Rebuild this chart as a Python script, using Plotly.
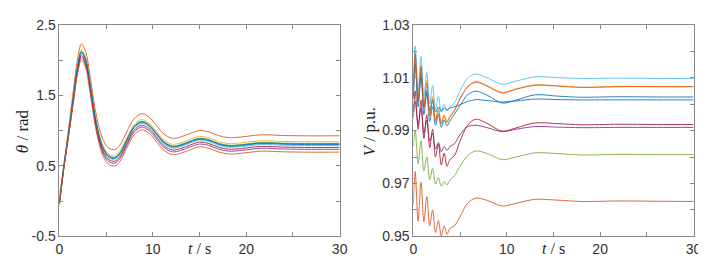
import plotly.graph_objects as go

# ---------------- data: left panel (theta / rad) ----------------
t_theta = [0, 0.5, 1.0, 1.5, 1.9, 2.35, 2.8, 3.3, 4.0, 4.7, 5.3, 5.9, 6.5, 7.2, 8.0, 8.8,
           9.6, 10.4, 11.2, 12.1, 13.0, 14.0, 15.0, 16.0, 17.0, 18.1, 19.5, 21.6, 24, 27, 30]

theta_1 = [0.00, 0.519, 0.988, 1.487, 1.868, 2.106, 1.996, 1.626, 1.056, 0.736, 0.626, 0.606, 0.676, 0.856, 1.046, 1.116,
           1.066, 0.946, 0.826, 0.766, 0.786, 0.836, 0.876, 0.856, 0.806, 0.776, 0.786, 0.816, 0.806, 0.801, 0.802]
theta_2 = [0.05, 0.55, 1.05, 1.58, 1.98, 2.23, 2.12, 1.75, 1.18, 0.86, 0.75, 0.73, 0.80, 0.98, 1.17, 1.24,
           1.19, 1.07, 0.95, 0.89, 0.91, 0.96, 1.00, 0.98, 0.93, 0.90, 0.91, 0.94, 0.93, 0.925, 0.926]
theta_3 = [0.03, 0.529, 1.008, 1.517, 1.904, 2.146, 2.036, 1.666, 1.096, 0.776, 0.666, 0.646, 0.716, 0.896, 1.086, 1.156,
           1.106, 0.986, 0.866, 0.806, 0.826, 0.876, 0.916, 0.896, 0.846, 0.816, 0.826, 0.856, 0.846, 0.841, 0.842]
theta_4 = [-0.04, 0.502, 0.955, 1.437, 1.808, 2.039, 1.929, 1.559, 0.989, 0.669, 0.559, 0.539, 0.609, 0.789, 0.979, 1.049,
           0.999, 0.879, 0.759, 0.699, 0.719, 0.769, 0.809, 0.789, 0.739, 0.709, 0.719, 0.749, 0.739, 0.734, 0.735]
theta_5 = [0.02, 0.523, 0.996, 1.500, 1.884, 2.123, 2.013, 1.643, 1.073, 0.753, 0.643, 0.623, 0.693, 0.873, 1.063, 1.133,
           1.083, 0.963, 0.843, 0.783, 0.803, 0.853, 0.893, 0.873, 0.823, 0.793, 0.803, 0.833, 0.823, 0.818, 0.819]
theta_6 = [0.01, 0.516, 0.982, 1.477, 1.857, 2.093, 1.983, 1.613, 1.043, 0.723, 0.613, 0.593, 0.663, 0.843, 1.033, 1.103,
           1.053, 0.933, 0.813, 0.753, 0.773, 0.823, 0.863, 0.843, 0.793, 0.763, 0.773, 0.803, 0.793, 0.788, 0.789]
theta_7 = [-0.03, 0.509, 0.968, 1.457, 1.832, 2.066, 1.956, 1.586, 1.016, 0.696, 0.586, 0.566, 0.636, 0.816, 1.006, 1.076,
           1.026, 0.906, 0.786, 0.726, 0.746, 0.796, 0.836, 0.816, 0.766, 0.736, 0.746, 0.776, 0.766, 0.761, 0.762]
theta_8 = [-0.02, 0.521, 0.992, 1.494, 1.876, 2.115, 2.005, 1.635, 1.065, 0.745, 0.635, 0.615, 0.685, 0.865, 1.055, 1.125,
           1.075, 0.955, 0.835, 0.775, 0.795, 0.845, 0.885, 0.865, 0.815, 0.785, 0.795, 0.825, 0.815, 0.810, 0.811]
theta_9 = [-0.05, 0.492, 0.935, 1.407, 1.772, 1.999, 1.889, 1.519, 0.949, 0.629, 0.519, 0.499, 0.569, 0.749, 0.939, 1.009,
           0.959, 0.839, 0.719, 0.659, 0.679, 0.729, 0.769, 0.749, 0.699, 0.669, 0.679, 0.709, 0.699, 0.694, 0.695]

# ---------------- data: right panel (V / p.u.) ----------------
t_v = [0, 0.2, 0.51, 0.82, 1.13, 1.44, 1.75, 2.06, 2.37, 2.68, 2.99, 3.3, 3.6, 3.9,
       4.4, 5.0, 5.8, 6.7, 8.0, 9.5, 11.0, 13.0, 15.5, 18, 22, 26, 30]

v_1 = [1.003, 1.0180, 0.9990, 1.0120, 0.9960, 1.0050, 0.9935, 0.9990, 0.9920, 0.9960, 0.9912, 0.9940, 0.9918, 0.9935,
       0.9962, 0.9995, 1.0035, 1.0049, 1.0032, 1.0004, 1.0015, 1.0035, 1.0030, 1.0026, 1.0028, 1.0027, 1.0027]
v_2 = [0.962, 0.9745, 0.9557, 0.9705, 0.9555, 0.9650, 0.9540, 0.9600, 0.9515, 0.9560, 0.9502, 0.9540, 0.9508, 0.9530,
       0.9540, 0.9575, 0.9625, 0.9645, 0.9635, 0.9615, 0.9625, 0.9640, 0.9637, 0.9632, 0.9634, 0.9633, 0.9632]
v_3 = [1.005, 1.0200, 1.0020, 1.0150, 0.9990, 1.0090, 0.9960, 1.0030, 0.9940, 0.9985, 0.9930, 0.9960, 0.9935, 0.9955,
       0.9978, 1.0023, 1.0067, 1.0086, 1.0068, 1.0044, 1.0058, 1.0073, 1.0069, 1.0064, 1.0067, 1.0066, 1.0066]
v_4 = [0.995, 1.0010, 0.9920, 0.9985, 0.9890, 0.9940, 0.9860, 0.9890, 0.9830, 0.9855, 0.9820, 0.9840, 0.9825, 0.9840,
       0.9850, 0.9885, 0.9915, 0.9920, 0.9910, 0.9896, 0.9905, 0.9915, 0.9913, 0.9911, 0.9912, 0.9912, 0.9912]
v_5 = [0.984, 0.9900, 0.9775, 0.9862, 0.9748, 0.9800, 0.9715, 0.9758, 0.9698, 0.9722, 0.9690, 0.9708, 0.9695, 0.9712,
       0.9730, 0.9765, 0.9805, 0.9823, 0.9812, 0.9790, 0.9800, 0.9816, 0.9813, 0.9808, 0.9810, 0.9809, 0.9809]
v_6 = [1.008, 1.0220, 1.0050, 1.0180, 1.0030, 1.0120, 1.0000, 1.0070, 0.9980, 1.0030, 0.9972, 1.0000, 0.9975, 0.9990,
       1.0005, 1.0050, 1.0098, 1.0114, 1.0098, 1.0075, 1.0087, 1.0103, 1.0100, 1.0097, 1.0098, 1.0097, 1.0097]
v_7 = [0.997, 1.0050, 0.9905, 1.0015, 0.9870, 0.9960, 0.9835, 0.9905, 0.9800, 0.9850, 0.9770, 0.9815, 0.9765, 0.9790,
       0.9805, 0.9860, 0.9920, 0.9943, 0.9925, 0.9898, 0.9910, 0.9929, 0.9926, 0.9922, 0.9924, 0.9923, 0.9923]
v_8 = [1.002, 1.0150, 1.0010, 1.0100, 0.9990, 1.0040, 0.9975, 1.0010, 0.9970, 0.9990, 0.9972, 0.9985, 0.9978, 0.9985,
       0.9990, 0.9998, 1.0010, 1.0017, 1.0013, 1.0008, 1.0012, 1.0019, 1.0017, 1.0016, 1.0016, 1.0016, 1.0016]
v_9 = [1.004, 1.0190, 1.0010, 1.0140, 0.9985, 1.0080, 0.9955, 1.0020, 0.9935, 0.9975, 0.9925, 0.9955, 0.9930, 0.9950,
       0.9975, 1.0020, 1.0064, 1.0083, 1.0066, 1.0042, 1.0056, 1.0071, 1.0068, 1.0063, 1.0066, 1.0066, 1.0066]

x_tickvals = [0, 5, 10, 15, 20, 25, 30]
x_ticktext = ["0", "", "10", "", "20", "", "30"]
theta_tickvals = [-0.5, 0.0, 0.5, 1.0, 1.5, 2.0, 2.5]
theta_ticktext = ["-0.5", "", "0.5", "", "1.5", "", "2.5"]
v_tickvals = [0.95, 0.96, 0.97, 0.98, 0.99, 1.00, 1.01, 1.02, 1.03]
v_ticktext = ["0.95", "", "0.97", "", "0.99", "", "1.01", "", "1.03"]

colors = ["#0072BD", "#D95319", "#EDB120", "#7E2F8E", "#77AC30",
          "#4DBEEE", "#A2142F", "#0072BD", "#D95319"]

theta_series = [theta_1, theta_2, theta_3, theta_4, theta_5, theta_6, theta_7, theta_8, theta_9]
v_series = [v_1, v_2, v_3, v_4, v_5, v_6, v_7, v_8, v_9]

fig = go.Figure()
for ys, c in zip(theta_series, colors):
    fig.add_trace(go.Scatter(x=t_theta, y=ys, mode="lines", xaxis="x", yaxis="y",
                             line=dict(color=c, width=1, shape="spline", smoothing=1.0),
                             opacity=0.85, showlegend=False, hoverinfo="skip"))
for ys, c in zip(v_series, colors):
    fig.add_trace(go.Scatter(x=t_v, y=ys, mode="lines", xaxis="x2", yaxis="y2",
                             line=dict(color=c, width=1, shape="spline", smoothing=0.9),
                             opacity=0.85, showlegend=False, hoverinfo="skip"))

W, H = 706, 258
ydom = [1 - 235 / H, 1 - 9.3 / H]
tickfont = dict(family="Liberation Sans, Arial, sans-serif", size=14, color="#333333")
axis_common = dict(showline=True, linecolor="#8a8a8a", linewidth=1, mirror="allticks",
                   ticks="inside", ticklen=4, tickcolor="#8a8a8a", showgrid=False,
                   zeroline=False, tickfont=tickfont)

fig.update_layout(
    width=W, height=H, margin=dict(l=0, r=0, t=0, b=0),
    paper_bgcolor="white", plot_bgcolor="white",
    xaxis=dict(domain=[48.3 / W, 333.3 / W], range=[0, 30], tickmode="array",
               tickvals=x_tickvals, ticktext=x_ticktext, anchor="y", **axis_common),
    yaxis=dict(domain=ydom, range=[-0.5, 2.5], tickmode="array",
               tickvals=theta_tickvals, ticktext=theta_ticktext, anchor="x", **axis_common),
    xaxis2=dict(domain=[408.3 / W, 693.3 / W], range=[0, 30], tickmode="array",
                tickvals=x_tickvals, ticktext=x_ticktext, anchor="y2", **axis_common),
    yaxis2=dict(domain=ydom, range=[0.95, 1.03], tickmode="array",
                tickvals=v_tickvals, ticktext=v_ticktext, anchor="x2", **axis_common),
)

serif = "Liberation Serif, Times New Roman, serif"
ann = [
    dict(x=191 / W, y=0.5 / H, text="<i>t</i> / s", xanchor="center", yanchor="bottom", size=16),
    dict(x=551 / W, y=0.5 / H, text="<i>t</i> / s", xanchor="center", yanchor="bottom", size=16),
    dict(x=11 / W, y=1 - 123 / H, text="<i>θ</i> / rad", textangle=-90, xanchor="center", yanchor="middle", size=17),
    dict(x=364 / W, y=1 - 123 / H, text="<i>V</i> / p.u.", textangle=-90, xanchor="center", yanchor="middle", size=17),
]
for a in ann:
    sz = a.pop("size")
    fig.add_annotation(xref="paper", yref="paper", showarrow=False, borderpad=0,
                       font=dict(family=serif, size=sz, color="#222222"), **a)

fig.write_html("out.html")
